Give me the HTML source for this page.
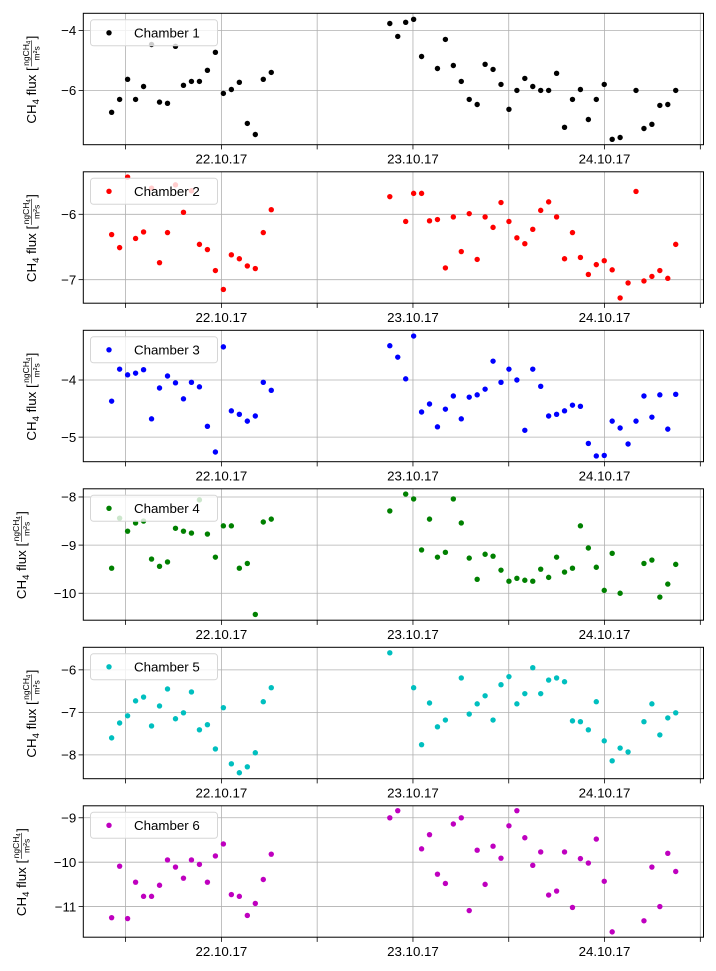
<!DOCTYPE html>
<html><head><meta charset="utf-8"><style>
html,body{margin:0;padding:0;background:#fff;}
svg{display:block;font-family:"Liberation Sans","DejaVu Sans",sans-serif;}
</style></head><body>
<svg id="chart" width="716" height="971" viewBox="0 0 716 971" xmlns="http://www.w3.org/2000/svg"></svg>
<script>
const tickHours = [12, 24, 36, 48, 60, 72, 84];
const tickLabels = ["", "22.10.17", "", "23.10.17", "", "24.10.17", ""];
const chamberNames = ["Chamber 1","Chamber 2","Chamber 3","Chamber 4","Chamber 5","Chamber 6"];
const chamberColors = ["#000000","#ff0000","#0000ff","#008000","#00bfbf","#bf00bf"];
const yTicks = [[-4,-6],[-6,-7],[-4,-5],[-8,-9,-10],[-6,-7,-8],[-9,-10,-11]];
const yDomains = [[-7.81,-3.43],[-7.36,-5.35],[-5.43,-3.13],[-10.56,-7.83],[-8.56,-5.47],[-11.69,-8.73]];
const xDomain = [6.7, 84.4];
const g1Start = 10.25, g2Start = 45.1, g2Step = 0.995;
const c1a = [-6.73,-6.3,-5.63,-6.3,-5.87,-4.47,-6.39,-6.43,-4.53,-5.83,-5.7,-5.7,-5.33,-4.73,-6.1,-5.97,-5.73,-7.1,-7.47,-5.63,-5.4];
const c1b = [-3.77,-4.2,-3.73,-3.63,-4.87,null,-5.27,-4.3,-5.17,-5.7,-6.3,-6.47,-5.13,-5.3,-5.8,-6.63,-6.0,-5.6,-5.87,-6,-6,-5.43,-7.23,-6.3,-5.97,-6.97,-6.3,-5.8,-7.63,-7.57,null,-6,-7.27,-7.13,-6.5,-6.47,-6];
const c2a = [-6.31,-6.51,-5.43,-6.37,-6.27,-5.6,-6.74,-6.28,-5.55,-5.97,-5.64,-6.46,-6.54,-6.86,-7.15,-6.62,-6.68,-6.79,-6.83,-6.28,-5.93];
const c2b = [-5.73,null,-6.11,-5.68,-5.68,-6.10,-6.08,-6.82,-6.04,-6.57,-5.99,-6.69,-6.04,-6.20,-5.82,-6.11,-6.36,-6.45,-6.23,-5.94,-5.81,-6.04,-6.68,-6.28,-6.66,-6.92,-6.77,-6.71,-6.85,-7.28,-7.05,-5.65,-7.02,-6.95,-6.86,-6.98,-6.46];
const c3a = [-4.37,-3.81,-3.91,-3.88,-3.82,-4.68,-4.14,-3.93,-4.05,-4.33,-4.04,-4.12,-4.81,-5.26,-3.42,-4.54,-4.60,-4.72,-4.63,-4.04,-4.18];
const c3b = [-3.40,-3.60,-3.98,-3.23,-4.56,-4.42,-4.82,-4.51,-4.28,-4.68,-4.30,-4.26,-4.16,-3.67,-4.04,-3.81,-4.0,-4.88,-3.81,-4.11,-4.63,-4.60,-4.54,-4.44,-4.46,-5.11,-5.33,-5.32,-4.72,-4.84,-5.12,-4.72,-4.28,-4.65,-4.26,-4.86,-4.25];
const c4a = [-9.48,-8.44,-8.71,-8.54,-8.50,-9.29,-9.44,-9.35,-8.65,-8.71,-8.75,-8.06,-8.77,-9.25,-8.60,-8.60,-9.48,-9.38,-10.44,-8.52,-8.46];
const c4b = [-8.29,null,-7.94,-8.04,-9.10,-8.46,-9.25,-9.15,-8.04,-8.54,-9.27,-9.71,-9.19,-9.23,-9.52,-9.75,-9.69,-9.73,-9.75,-9.50,-9.67,-9.25,-9.56,-9.48,-8.60,-9.06,-9.46,-9.94,-9.17,-10.0,null,null,-9.38,-9.31,-10.08,-9.81,-9.40];
const c5a = [-7.60,-7.25,-7.08,-6.73,-6.64,-7.32,-6.85,-6.45,-7.15,-7.01,-6.52,-7.41,-7.29,-7.86,-6.89,-8.21,-8.42,-8.28,-7.95,-6.75,-6.42];
const c5b = [-5.60,null,null,-6.42,-7.76,-6.78,-7.34,-7.18,null,-6.19,-7.04,-6.80,-6.61,-7.18,-6.35,-6.16,-6.80,-6.56,-5.95,-6.56,-6.24,-6.19,-6.28,-7.20,-7.22,-7.41,-6.75,-7.67,-8.14,-7.84,-7.93,null,-7.22,-6.80,-7.53,-7.13,-7.01];
const c6a = [-11.25,-10.09,-11.27,-10.45,-10.77,-10.77,-10.52,-9.95,-10.11,-10.36,-9.95,-10.05,-10.45,-9.86,-9.59,-10.73,-10.77,-11.20,-10.93,-10.39,-9.82];
const c6b = [-9.0,-8.84,null,null,-9.70,-9.38,-10.27,-10.48,-9.14,-9.0,-11.09,-9.73,-10.50,-9.64,-9.91,-9.18,-8.84,-9.45,-10.07,-9.77,-10.74,-10.65,-9.77,-11.02,-9.92,-10.02,-9.48,-10.43,-11.57,null,null,null,-11.32,-10.11,-11.0,-9.80,-10.21];
const seriesA = [c1a,c2a,c3a,c4a,c5a,c6a];
const seriesB = [c1b,c2b,c3b,c4b,c5b,c6b];

const NS = "http://www.w3.org/2000/svg";
const svg = document.getElementById("chart");
const L = 83.3, R = 703.5, H = 131.4, TOP0 = 13.3, STEP = 158.5;
function mk(tag, attrs, parent){const e=document.createElementNS(NS,tag);for(const k in attrs)e.setAttribute(k,attrs[k]);(parent||svg).appendChild(e);return e;}
function xScale(h){return L+(h-xDomain[0])/(xDomain[1]-xDomain[0])*(R-L);}

for(let p=0;p<6;p++){
  const top=TOP0+STEP*p, bot=top+H;
  const yd=yDomains[p];
  const yScale=v=>bot-(v-yd[0])/(yd[1]-yd[0])*H;
  const g=mk("g",{});
  
  
  tickHours.forEach((h,i)=>{
    const x=xScale(h);
    const gl=mk("line",{x1:x,x2:x,y1:top,y2:bot,stroke:"#b0b0b0","stroke-width":0.8},g);
    
    
    const tk=mk("line",{x1:x,x2:x,y1:bot,y2:bot+4.7,stroke:"#000","stroke-width":0.8},g);
    
    
    if(tickLabels[i]){
      const t=mk("text",{x:x,y:bot+19,"font-size":"13.3","text-anchor":"middle",fill:"#000"},g);
      t.textContent=tickLabels[i];
      
      
    }
  });
  yTicks[p].forEach(v=>{
    const y=yScale(v);
    const gl=mk("line",{x1:L,x2:R,y1:y,y2:y,stroke:"#b0b0b0","stroke-width":0.8},g);
    
    
    const tk=mk("line",{x1:L-4.7,x2:L,y1:y,y2:y,stroke:"#000","stroke-width":0.8},g);
    
    
    const t=mk("text",{x:L-7,y:y+4.7,"font-size":"13.3","text-anchor":"end",fill:"#000"},g);
    t.textContent="\u2212"+Math.abs(v);
    
    
  });
  const col=chamberColors[p];
  const drawPts=(arr,start,step)=>{arr.forEach((v,i)=>{
    if(v===null)return;
    const c=mk("circle",{cx:xScale(start+i*step),cy:yScale(v),r:2.7,fill:col},g);
    
    
  });};
  drawPts(seriesA[p],g1Start,1.0);
  drawPts(seriesB[p],g2Start,g2Step);
  const fr=mk("rect",{x:L,y:top,width:R-L,height:H,fill:"none",stroke:"#000","stroke-width":1},g);
  
  
  const lg=mk("g",{},g);
  
  
  mk("rect",{x:90.5,y:top+6.5,width:127,height:26,rx:3,fill:"#fff","fill-opacity":0.8,stroke:"#d6d6d6","stroke-width":1},lg);
  mk("circle",{cx:109,cy:top+19.5,r:2.7,fill:col},lg);
  const lt=mk("text",{x:134,y:top+24.2,"font-size":"13.3",fill:"#000"},lg);
  lt.textContent=chamberNames[p];
  
  
  // y-axis label, laid out by measured widths
  const wide = yTicks[p].some(v=>Math.abs(v)>=10);
  const lx = wide ? 26 : 36;
  const cy = top+H/2;
  const yl=mk("g",{transform:`translate(${lx},${cy}) rotate(-90)`},g);
  
  
  const t1=mk("text",{x:0,y:0,"font-size":"13.3",fill:"#000"},yl);
  t1.innerHTML='CH<tspan font-size="9.5" dy="3">4</tspan><tspan dy="-3"> flux [</tspan>';
  let w1=66; try{w1=t1.getComputedTextLength()||66;}catch(e){}
  const fw=26, w3=5;
  const total=w1+1+fw+1+w3;
  const s=-total/2;
  t1.setAttribute('x',s);
  const fx=s+w1+1;
  mk("line",{x1:fx,x2:fx+fw,y1:-4.5,y2:-4.5,stroke:"#000","stroke-width":0.6},yl);
  const tn=mk("text",{x:fx+fw/2,y:-7,"font-size":"8.5","text-anchor":"middle",fill:"#000"},yl);
  tn.innerHTML='ngCH<tspan font-size="6" dy="1.5">4</tspan>';
  const td=mk("text",{x:fx+fw/2,y:3.5,"font-size":"8.5","text-anchor":"middle",fill:"#000"},yl);
  td.textContent='m\u00b2s';
  const tb=mk("text",{x:fx+fw+1,y:0,"font-size":"13.3",fill:"#000"},yl);
  tb.textContent=']';
}
</script>
</body></html>
